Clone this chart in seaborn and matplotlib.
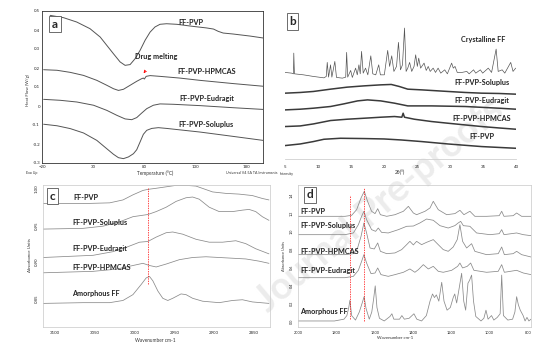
import numpy as np
import pandas as pd
import seaborn as sns
import matplotlib.pyplot as plt
from matplotlib.ticker import AutoMinorLocator

# ---------------- panel a : DSC (temperature, heat flow) ----------------
a_pvp_t = [-12, 1, 14, 27, 37, 43.5, 50, 56.5, 61.4, 66.3, 71.2, 76.1, 81, 85.9, 90.7, 95.6, 102, 112, 128, 141, 148, 152.6, 157.5, 167, 184, 196.6]
a_pvp_hf = [0.477, 0.465, 0.442, 0.407, 0.363, 0.319, 0.275, 0.232, 0.214, 0.218, 0.249, 0.293, 0.346, 0.389, 0.416, 0.430, 0.433, 0.430, 0.419, 0.411, 0.405, 0.393, 0.384, 0.379, 0.368, 0.358]

a_hpm_t = [-18.4, -5.3, 7.7, 20.7, 33.7, 43.5, 50, 54.9, 59.8, 66.3, 72.8, 77.7, 79.3, 80.3, 82, 85.9, 95.6, 115, 134.7, 167.3, 196.6]
a_hpm_hf = [0.191, 0.188, 0.177, 0.161, 0.135, 0.109, 0.091, 0.082, 0.088, 0.109, 0.130, 0.144, 0.147, 0.142, 0.156, 0.160, 0.156, 0.147, 0.135, 0.118, 0.104]

a_eud_t = [-18.4, -2.1, 14.2, 30.5, 43.5, 53.3, 61.4, 67.9, 72.8, 77.7, 82.6, 89.1, 95.6, 108.7, 134.7, 167.3, 196.6]
a_eud_hf = [0.035, 0.030, 0.021, 0.004, -0.023, -0.049, -0.068, -0.072, -0.061, -0.037, -0.014, 0.004, 0.011, 0.009, 0.002, -0.009, -0.018]

a_sol_t = [-18.4, -5.3, 7.7, 20.7, 33.7, 43.5, 50, 54.9, 59.8, 64.7, 69.6, 72.8, 76.1, 79.3, 82.6, 87.5, 94, 102.1, 134.7, 167.3, 196.6]
a_sol_hf = [-0.096, -0.104, -0.119, -0.142, -0.181, -0.225, -0.254, -0.272, -0.277, -0.268, -0.251, -0.230, -0.189, -0.149, -0.128, -0.118, -0.114, -0.118, -0.137, -0.160, -0.181]

a_xticks = [-20, 30, 80, 130, 180]
a_yticks = [0.5, 0.4, 0.3, 0.2, 0.1, 0.0, -0.1, -0.2, -0.3]

# ---------------- panel b : XRD (2theta, intensity) ----------------
b_cry_x = [5.0, 6.0, 6.28, 6.33, 6.43, 7.8, 9.3, 10.9, 11.25, 11.4, 11.6, 11.9, 12.1, 12.55, 12.8, 13.7, 14.2, 14.34, 14.5, 14.95, 15.2, 15.7, 15.95, 16.2, 16.4, 16.6, 16.85, 17.2, 17.55, 18.0, 18.3, 18.75, 19.2, 19.45, 20.05, 20.56, 20.85, 21.17, 21.5, 21.9, 22.19, 22.5, 22.8, 23.11, 23.35, 23.6, 23.88, 24.2, 24.55, 24.8, 25.05, 25.26, 25.55, 26.07, 26.4, 26.7, 27.0, 27.45, 27.8, 28.2, 28.6, 29.2, 29.6, 30.25, 30.5, 30.76, 31.1, 31.8, 32.55, 32.9, 33.57, 33.9, 34.6, 34.95, 35.8, 36.3, 36.99, 37.3, 37.9, 38.3, 39.2, 39.55, 39.95]
b_cry_i = [86.7, 86.0, 85.3, 106.0, 85.3, 84.3, 82.7, 81.3, 82.7, 96.7, 82.0, 94.3, 82.0, 97.7, 81.7, 81.0, 82.0, 106.7, 82.0, 88.7, 81.7, 91.0, 84.3, 94.3, 85.3, 107.7, 86.0, 91.0, 84.3, 103.3, 85.3, 84.3, 94.3, 84.3, 84.3, 108.7, 92.7, 103.3, 87.7, 92.7, 116.7, 89.3, 94.3, 131.0, 87.7, 91.0, 96.7, 87.7, 92.7, 104.3, 92.7, 101.0, 91.0, 96.0, 88.7, 92.7, 87.7, 91.0, 86.7, 91.0, 86.0, 89.3, 85.3, 96.0, 91.0, 92.7, 86.7, 86.7, 87.7, 85.3, 89.3, 86.0, 89.3, 86.0, 91.0, 86.7, 110.0, 87.7, 89.3, 86.0, 96.7, 87.7, 91.0]

b_sol_x = [5.0, 7.3, 9.3, 11.9, 14.4, 17.0, 19.5, 21.1, 22.3, 23.6, 25.7, 27.2, 29.7, 32.3, 34.8, 37.4, 40.0]
b_sol_i = [66.0, 66.7, 67.7, 70.0, 72.0, 73.3, 74.3, 74.7, 72.7, 70.0, 69.3, 68.7, 67.7, 66.7, 66.0, 65.7, 65.0]

b_eud_x = [5.0, 7.3, 9.3, 11.9, 13.9, 16.0, 17.5, 19.5, 21.6, 23.6, 27.2, 32.3, 37.4, 40.0]
b_eud_i = [49.3, 50.0, 51.0, 52.7, 55.3, 58.3, 59.3, 58.3, 56.0, 53.3, 53.3, 52.7, 51.0, 50.0]

b_hpm_x = [5.0, 7.3, 9.3, 11.9, 14.4, 17.0, 19.5, 21.6, 22.7, 22.9, 23.1, 24.6, 27.2, 29.7, 32.3, 34.8, 37.4, 40.0]
b_hpm_i = [32.7, 33.3, 35.3, 38.7, 40.0, 41.0, 42.0, 42.7, 42.0, 46.0, 42.0, 40.0, 37.7, 36.0, 34.3, 32.7, 31.3, 30.0]

b_pvp_x = [5.0, 7.3, 9.3, 10.9, 13.4, 17.0, 20.0, 22.6, 25.7, 29.7, 34.8, 40.0]
b_pvp_i = [13.7, 15.3, 17.7, 20.0, 21.0, 20.7, 20.3, 19.3, 17.7, 15.3, 12.7, 11.0]

b_xticks = [5, 10, 15, 20, 25, 30, 35, 40]

# ---------------- panel c : FTIR 3115-2830 cm-1 ----------------
c_pvp_w = [3114.6, 3064.6, 3031.3, 3014.6, 3002.1, 2989.6, 2983.3, 2972.9, 2960.4, 2947.9, 2935.4, 2922.9, 2912.5, 2902.1, 2885.4, 2868.8, 2852.1, 2839.6, 2831.3]
c_pvp_a = [0.980, 0.980, 0.981, 0.985, 0.992, 0.998, 0.9995, 1.001, 1.003, 1.005, 1.005, 1.004, 1.000, 0.996, 0.994, 0.993, 0.991, 0.987, 0.985]

c_sol_w = [3114.6, 3064.6, 3039.6, 3018.8, 3002.1, 2983.3, 2972.9, 2960.4, 2947.9, 2935.4, 2927.1, 2918.8, 2906.3, 2893.8, 2877.1, 2864.6, 2856.3, 2847.9, 2839.6, 2831.3]
c_sol_a = [0.945, 0.946, 0.949, 0.955, 0.962, 0.965, 0.969, 0.975, 0.983, 0.988, 0.989, 0.986, 0.975, 0.969, 0.969, 0.971, 0.972, 0.969, 0.962, 0.957]

c_eud_w = [3114.6, 3052.1, 3027.1, 3010.4, 2993.8, 2983.3, 2972.9, 2960.4, 2952.1, 2939.6, 2922.9, 2906.3, 2889.6, 2872.9, 2860.4, 2847.9, 2831.3]
c_eud_a = [0.906, 0.909, 0.914, 0.920, 0.927, 0.928, 0.934, 0.940, 0.941, 0.938, 0.931, 0.927, 0.927, 0.929, 0.925, 0.918, 0.911]

c_hpm_w = [3114.6, 3052.1, 3022.9, 3002.1, 2989.6, 2981.3, 2972.9, 2960.4, 2943.8, 2927.1, 2910.4, 2893.8, 2877.1, 2860.4, 2843.8, 2831.3]
c_hpm_a = [0.885, 0.887, 0.890, 0.895, 0.898, 0.895, 0.893, 0.897, 0.903, 0.906, 0.907, 0.906, 0.905, 0.904, 0.901, 0.898]

c_am_w = [3114.6, 3064.6, 3031.3, 3014.6, 3002.1, 2991.7, 2985.4, 2981.3, 2977.1, 2970.8, 2964.6, 2958.3, 2952.1, 2941.7, 2935.4, 2927.1, 2914.6, 2893.8, 2877.1, 2864.6, 2852.1, 2831.3]
c_am_a = [0.843, 0.844, 0.844, 0.847, 0.855, 0.869, 0.878, 0.880, 0.874, 0.860, 0.850, 0.847, 0.850, 0.856, 0.855, 0.850, 0.846, 0.844, 0.847, 0.848, 0.845, 0.843]

c_xticks = [3100, 3050, 3000, 2950, 2900, 2850]
c_yticks = [0.85, 0.90, 0.95, 1.00]
c_marker_w = 2983

# ---------------- panel d : FTIR 2000-784 cm-1 ----------------
d_pvp_w = [2000, 1842, 1755, 1720, 1694, 1671, 1654, 1637, 1616, 1598, 1584, 1570, 1537, 1494, 1450, 1424, 1398, 1381, 1337, 1311, 1294, 1268, 1224, 1181, 1155, 1134, 1103, 1077, 1016, 950, 937, 925, 877, 859, 833, 784]
d_pvp_a = [1.163, 1.163, 1.163, 1.174, 1.237, 1.367, 1.441, 1.330, 1.219, 1.193, 1.248, 1.181, 1.163, 1.181, 1.219, 1.274, 1.200, 1.181, 1.219, 1.256, 1.330, 1.237, 1.181, 1.193, 1.230, 1.181, 1.219, 1.163, 1.163, 1.170, 1.219, 1.163, 1.170, 1.200, 1.163, 1.163]

d_sol_w = [2000, 1755, 1711, 1685, 1668, 1656, 1642, 1616, 1595, 1581, 1564, 1529, 1476, 1433, 1398, 1364, 1329, 1294, 1259, 1216, 1181, 1164, 1151, 1137, 1103, 1068, 998, 950, 937, 925, 859, 824, 784]
d_sol_a = [0.959, 0.959, 0.978, 1.070, 1.163, 1.219, 1.126, 1.015, 0.996, 1.033, 0.985, 0.978, 1.015, 1.052, 1.055, 1.089, 1.133, 1.119, 1.059, 1.033, 1.060, 1.089, 1.107, 1.059, 1.052, 0.978, 0.959, 0.970, 1.015, 0.959, 0.978, 0.959, 0.948]

d_hpm_w = [2000, 1755, 1711, 1689, 1671, 1656, 1642, 1624, 1602, 1584, 1570, 1537, 1494, 1459, 1433, 1416, 1398, 1381, 1355, 1329, 1294, 1268, 1242, 1216, 1190, 1169, 1155, 1141, 1120, 1094, 1077, 1016, 955, 937, 923, 877, 859, 833, 784]
d_hpm_a = [0.737, 0.737, 0.748, 0.811, 0.941, 1.089, 0.978, 0.811, 0.800, 0.867, 0.774, 0.748, 0.756, 0.793, 0.848, 0.885, 0.845, 0.885, 0.848, 0.874, 0.904, 0.848, 0.793, 0.774, 0.822, 0.904, 1.070, 0.885, 0.811, 0.859, 0.774, 0.737, 0.748, 0.822, 0.737, 0.748, 0.774, 0.737, 0.711]

d_eud_w = [2000, 1755, 1711, 1685, 1668, 1656, 1642, 1619, 1598, 1584, 1567, 1529, 1494, 1450, 1416, 1390, 1372, 1346, 1320, 1294, 1268, 1242, 1198, 1167, 1155, 1141, 1117, 1099, 1082, 1016, 955, 937, 923, 859, 824, 784]
d_eud_a = [0.481, 0.481, 0.496, 0.563, 0.663, 0.737, 0.644, 0.526, 0.533, 0.589, 0.515, 0.496, 0.515, 0.541, 0.578, 0.541, 0.570, 0.626, 0.578, 0.607, 0.552, 0.541, 0.563, 0.607, 0.644, 0.589, 0.607, 0.644, 0.563, 0.541, 0.552, 0.626, 0.541, 0.563, 0.533, 0.515]

d_am_w = [2000, 1810, 1760, 1745, 1735, 1729, 1720, 1700, 1680, 1665, 1655, 1645, 1628, 1615, 1605, 1597, 1588, 1575, 1550, 1520, 1510, 1500, 1470, 1458, 1445, 1420, 1395, 1380, 1355, 1330, 1311, 1298, 1288, 1278, 1265, 1250, 1238, 1222, 1205, 1190, 1182, 1172, 1160, 1146, 1135, 1125, 1113, 1105, 1094, 1084, 1072, 1045, 1030, 1019, 1008, 990, 978, 960, 945, 937, 928, 905, 880, 868, 859, 850, 840, 825, 815, 805, 795, 784]
d_am_a = [0.0, 0.0, 0.02, 0.06, 0.15, 0.23, 0.06, 0.01, 0.10, 0.20, 0.27, 0.14, 0.02, 0.10, 0.25, 0.39, 0.15, 0.03, 0.0, 0.05, 0.08, 0.02, 0.02, 0.06, 0.02, 0.03, 0.08, 0.02, 0.0, 0.06, 0.22, 0.30, 0.26, 0.29, 0.22, 0.43, 0.22, 0.12, 0.15, 0.26, 0.30, 0.20, 0.35, 0.53, 0.22, 0.12, 0.42, 0.45, 0.51, 0.22, 0.05, 0.0, 0.03, 0.12, 0.02, 0.06, 0.01, 0.04, 0.08, 0.51, 0.06, 0.01, 0.02, 0.10, 0.27, 0.18, 0.12, 0.06, 0.0, 0.04, 0.0, 0.02]

d_xticks = [2000, 1800, 1600, 1400, 1200, 1000, 800]
d_yticks = [0.0, 0.2, 0.4, 0.6, 0.8, 1.0, 1.2, 1.4]
d_marker_w = [1729, 1654]

# ---------------- drawing ----------------
sns.set_style("white")
plt.rcParams['font.family'] = ['Lato', 'DejaVu Sans']

W, H = 554, 351
fig = plt.figure(figsize=(W / 100, H / 100), dpi=100)

# faint journal watermark, drawn first so the panels sit over it
fig.text(380 / W, 1 - 205 / H, 'Journal Pre-proofs', fontsize=27, fontweight='bold', color='#ececec',
         rotation=40, rotation_mode='anchor', ha='center', va='center', zorder=-5)


def px_axes(l, t, r, b):
    ax = fig.add_axes([l / W, 1 - b / H, (r - l) / W, (b - t) / H])
    ax.set_facecolor('none')
    return ax


def trace(ax, x, y, color, lw):
    sns.lineplot(x=x, y=y, ax=ax, color=color, lw=lw, sort=False, estimator=None)


def tag(px, py, s):
    fig.text(px / W, 1 - py / H, s, fontsize=8.5, fontweight='bold', ha='center', va='center',
             bbox=dict(boxstyle='square,pad=0.22', fc='white', ec='#555555', lw=0.6))


LBL = dict(fontsize=5.2, fontweight='bold', color='#222222', va='center')
TICK = 3.2

# panel a
ax = px_axes(42, 11, 263, 163)
for t, hf in [(a_pvp_t, a_pvp_hf), (a_hpm_t, a_hpm_hf), (a_eud_t, a_eud_hf), (a_sol_t, a_sol_hf)]:
    trace(ax, t, hf, '#555555', 0.7)
ax.set_xlim(-20, 196.5)
ax.set_ylim(-0.3, 0.5)
ax.set_xticks(a_xticks)
ax.set_yticks(a_yticks)
ax.set_yticklabels([f'{v:g}' for v in a_yticks])
ax.xaxis.set_minor_locator(AutoMinorLocator(5))
ax.yaxis.set_minor_locator(AutoMinorLocator(5))
ax.tick_params(which='both', direction='in', labelsize=TICK, length=1.8, width=0.4, pad=1.5)
ax.tick_params(which='minor', length=1.0)
for s in ax.spines.values():
    s.set_color('#333333')
    s.set_linewidth(0.6)
ax.set_xlabel('')
ax.set_ylabel('')
ax.text(126, 0.442, 'FF-PVP', ha='center', **LBL)
ax.text(92, 0.258, 'Drug melting', ha='center', **LBL)
ax.text(141, 0.184, 'FF-PVP-HPMCAS', ha='center', **LBL)
ax.text(141, 0.042, 'FF-PVP-Eudragit', ha='center', **LBL)
ax.text(141, -0.100, 'FF-PVP-Soluplus', ha='center', **LBL)
ax.annotate('', xy=(78, 0.160), xytext=(83, 0.198),
            arrowprops=dict(arrowstyle='->', color='red', lw=0.6, mutation_scale=4))
fig.text(28 / W, 1 - 90 / H, 'Heat Flow (W/g)', rotation=90, fontsize=3.2, ha='center', va='center', color='#333333')
fig.text(155 / W, 1 - 173 / H, 'Temperature (°C)', fontsize=3.4, ha='center', va='center', color='#333333')
fig.text(32 / W, 1 - 173 / H, 'Exo Up', fontsize=2.6, ha='center', va='center', color='#333333')
fig.text(277 / W, 1 - 173 / H, 'Universal V4.5A TA Instruments', fontsize=2.6, ha='right', va='center', color='#333333')
tag(55, 24, 'a')

# panel b
ax = px_axes(285, 3, 516, 159.3)
trace(ax, b_cry_x, b_cry_i, '#555555', 0.5)
for x, i in [(b_sol_x, b_sol_i), (b_eud_x, b_eud_i), (b_hpm_x, b_hpm_i), (b_pvp_x, b_pvp_i)]:
    trace(ax, x, i, '#3a3a3a', 1.1)
ax.set_xlim(5, 40)
ax.set_ylim(0, 156)
ax.set_xticks(b_xticks)
ax.set_yticks([])
sns.despine(ax=ax, left=True)
ax.spines['bottom'].set_color('#d0d0d0')
ax.spines['bottom'].set_linewidth(0.6)
ax.tick_params(axis='x', labelsize=TICK, length=0, pad=4)
ax.set_xlabel('')
ax.set_ylabel('')
ax.text(35.0, 119.3, 'Crystalline FF', ha='center', **LBL)
ax.text(34.85, 76.3, 'FF-PVP-Soluplus', ha='center', **LBL)
ax.text(34.85, 58.3, 'FF-PVP-Eudragit', ha='center', **LBL)
ax.text(34.85, 40.3, 'FF-PVP-HPMCAS', ha='center', **LBL)
ax.text(34.85, 22.3, 'FF-PVP', ha='center', **LBL)
fig.text(400 / W, 1 - 172.5 / H, '2θ(°)', fontsize=3.4, ha='center', va='center', color='#333333')
fig.text(287 / W, 1 - 174 / H, 'Intensity', fontsize=2.6, ha='center', va='center', color='#333333')
tag(292.5, 21.5, 'b')

# panel c
ax = px_axes(43, 185, 270, 327)
for w, a in [(c_pvp_w, c_pvp_a), (c_sol_w, c_sol_a), (c_eud_w, c_eud_a), (c_hpm_w, c_hpm_a), (c_am_w, c_am_a)]:
    trace(ax, w, a, '#8a8a8a', 0.55)
ax.vlines(c_marker_w, 0.869, 1.001, colors='red', linestyles=(0, (2, 1.5)), lw=0.5)
ax.set_xlim(3115, 2830)
ax.set_ylim(0.8106, 1.0055)
ax.set_xticks(c_xticks)
ax.set_yticks(c_yticks)
ax.set_yticklabels([f'{v:.2f}' for v in c_yticks], rotation=90, va='center')
ax.tick_params(labelsize=TICK, length=0, pad=3)
for s in ax.spines.values():
    s.set_color('#c8c8c8')
    s.set_linewidth(0.5)
ax.set_xlabel('')
ax.set_ylabel('')
ax.text(3077, 0.988, 'FF-PVP', ha='left', **LBL)
ax.text(3078, 0.954, 'FF-PVP-Soluplus', ha='left', **LBL)
ax.text(3078, 0.918, 'FF-PVP-Eudragit', ha='left', **LBL)
ax.text(3078, 0.892, 'FF-PVP-HPMCAS', ha='left', **LBL)
ax.text(3078, 0.857, 'Amorphous FF', ha='left', **LBL)
fig.text(30 / W, 1 - 255 / H, 'Absorbance Units', rotation=90, fontsize=3.2, ha='center', va='center', color='#333333')
fig.text(155 / W, 1 - 340 / H, 'Wavenumber cm-1', fontsize=3.4, ha='center', va='center', color='#333333')
tag(52.5, 196, 'c')

# panel d
ax = px_axes(298, 185, 531, 327)
for w, a in [(d_pvp_w, d_pvp_a), (d_sol_w, d_sol_a), (d_hpm_w, d_hpm_a), (d_eud_w, d_eud_a), (d_am_w, d_am_a)]:
    trace(ax, w, a, '#8a8a8a', 0.55)
ax.vlines(d_marker_w[0], 0.02, 1.40, colors='red', linestyles=(0, (2, 1.5)), lw=0.5)
ax.vlines(d_marker_w[1], 0.0, 1.48, colors='red', linestyles=(0, (2, 1.5)), lw=0.5)
ax.set_xlim(2000, 784)
ax.set_ylim(-0.067, 1.511)
ax.set_xticks(d_xticks)
ax.set_yticks(d_yticks)
ax.set_yticklabels([f'{v:.1f}' for v in d_yticks], rotation=90, va='center')
ax.tick_params(labelsize=2.8, length=0, pad=3)
for s in ax.spines.values():
    s.set_color('#c8c8c8')
    s.set_linewidth(0.5)
ax.set_xlabel('')
ax.set_ylabel('')
ax.text(1990, 1.219, 'FF-PVP', ha='left', **LBL)
ax.text(1990, 1.059, 'FF-PVP-Soluplus', ha='left', **LBL)
ax.text(1990, 0.774, 'FF-PVP-HPMCAS', ha='left', **LBL)
ax.text(1990, 0.563, 'FF-PVP-Eudragit', ha='left', **LBL)
ax.text(1990, 0.100, 'Amorphous FF', ha='left', **LBL)
fig.text(284 / W, 1 - 256 / H, 'Absorbance Units', rotation=90, fontsize=2.8, ha='center', va='center', color='#333333')
fig.text(395 / W, 1 - 338 / H, 'Wavenumber cm-1', fontsize=3.2, ha='center', va='center', color='#333333')
tag(310, 195, 'd')

fig.savefig('out.png', dpi=100)
